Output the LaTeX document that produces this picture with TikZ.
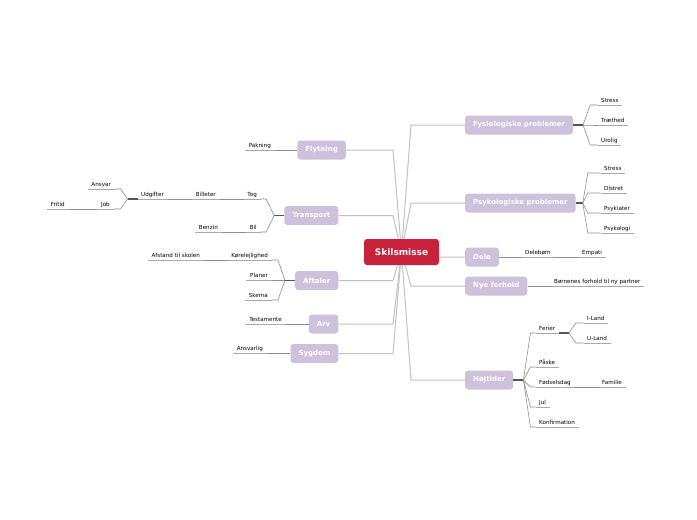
\documentclass[tikz,border=0pt]{standalone}
\usepackage{fontspec}
\setmainfont{DejaVu Sans}
\usetikzlibrary{positioning}
\pgfdeclarelayer{bg}
\pgfsetlayers{bg,main}
\definecolor{rootred}{HTML}{C8213A}
\definecolor{topiclila}{HTML}{CDC1DB}
\definecolor{trunkgray}{HTML}{C2C2C2}
\definecolor{linkgray}{HTML}{8E8E8E}
\definecolor{stubgray}{HTML}{555555}

\begin{document}
\begin{tikzpicture}[
  x=1pt, y=-1pt,
  root/.style={rectangle, rounded corners=3pt, fill=rootred, text=white,
               minimum width=75pt, minimum height=26pt,
               font=\bfseries\fontsize{9}{10}\selectfont},
  topic/.style={rectangle, rounded corners=3pt, fill=topiclila, text=white,
                inner xsep=8pt, minimum height=19pt,
                font=\bfseries\fontsize{7}{8}\selectfont},
  leafL/.style={inner xsep=3.5pt, inner ysep=1.5pt, text height=4.2pt,
                text depth=1.2pt, anchor=south east,
                font=\fontsize{5.6}{6.5}\selectfont},
  leafR/.style={leafL, anchor=south west},
  trunk/.style={draw=trunkgray, line width=1pt},
  link/.style={draw=linkgray, line width=0.6pt},
  uline/.style={draw=linkgray!75, line width=0.6pt},
  stub/.style={draw=stubgray, line width=1.5pt}
]
\useasboundingbox (0,0) rectangle (697,520);

\node[root] (root) at (401.5,252) {Skilsmisse};

% left topics
\node[topic, anchor=east] (flyt)  at (346,150)   {Flytning};
\node[topic, anchor=east] (trans) at (338.5,215.5) {Transport};
\node[topic, anchor=east] (aft)   at (338.5,280.5) {Aftaler};
\node[topic, anchor=east] (arv)   at (338.5,324) {Arv};
\node[topic, anchor=east] (syg)   at (338.5,353.5) {Sygdom};

% right topics
\node[topic, anchor=west] (fys)  at (465,125) {Fysiologiske problemer};
\node[topic, anchor=west] (psy)  at (465,203) {Psykologiske problemer};
\node[topic, anchor=west] (dele) at (465,257) {Dele};
\node[topic, anchor=west] (nye)  at (465,286) {Nye forhold};
\node[topic, anchor=west] (hoj)  at (465,380) {Højtider};

% left leaves
\node[leafL] (pak)   at (274.5,150) {Pakning};
\node[leafL] (tog)   at (260.5,199) {Tog};
\node[leafL] (bill)  at (219.5,199) {Billeter};
\node[leafL] (udg)   at (167.5,199) {Udgifter};
\node[leafL] (ansv)  at (114.5,189) {Ansvar};
\node[leafL] (job)   at (113.5,209) {Job};
\node[leafL] (frit)  at (68.5,209)  {Fritid};
\node[leafL] (bil)   at (260.5,232) {Bil};
\node[leafL] (benz)  at (221.5,232) {Benzin};
\node[leafL] (kore)  at (271.5,260) {Kørelejlighed};
\node[leafL] (afst)  at (203.5,260) {Afstand til skolen};
\node[leafL] (plan)  at (271.5,280.5) {Planer};
\node[leafL] (skem)  at (271.5,300) {Skema};
\node[leafL] (test)  at (285.5,324) {Testamente};
\node[leafL] (ansvl) at (266.5,353.5) {Ansvarlig};

% right leaves
\node[leafR] (str1)  at (597.5,105) {Stress};
\node[leafR] (trae)  at (597.5,125) {Træthed};
\node[leafR] (urol)  at (597.5,145) {Urolig};
\node[leafR] (str2)  at (600.5,173) {Stress};
\node[leafR] (dist)  at (600.5,193) {Distret};
\node[leafR] (psyk)  at (600.5,213) {Psykiater};
\node[leafR] (psyl)  at (600.5,233) {Psykologi};
\node[leafR] (deleb) at (521.5,257) {Delebørn};
\node[leafR] (empa)  at (578.5,257) {Empati};
\node[leafR] (born)  at (550.5,286) {Børnenes forhold til ny partner};
\node[leafR] (feri)  at (535.5,333) {Ferier};
\node[leafR] (iland) at (583.5,323) {I-Land};
\node[leafR] (uland) at (583.5,343) {U-Land};
\node[leafR] (pask)  at (535.5,367) {Påske};
\node[leafR] (fods)  at (535.5,387) {Fødselsdag};
\node[leafR] (fami)  at (598.5,387) {Familie};
\node[leafR] (jul)   at (535.5,407) {Jul};
\node[leafR] (konf)  at (535.5,427) {Konfirmation};

\foreach \n in {pak,tog,bill,udg,ansv,job,frit,bil,benz,kore,afst,plan,skem,
                test,ansvl,str1,trae,urol,str2,dist,psyk,psyl,deleb,empa,born,
                feri,iland,uland,pask,fods,fami,jul,konf}
  \draw[uline] (\n.south west) -- (\n.south east);

% trunks from the centre
\coordinate (rc) at ([xshift=9.5pt]root.center);
\coordinate (lc) at ([xshift=-8.5pt]root.center);
\begin{pgfonlayer}{bg}
\foreach \t in {fys,psy,dele,nye,hoj}
  \draw[trunk] (root.center) -- (rc |- \t.west) -- (\t.west);
\foreach \t in {flyt,trans,aft,arv,syg}
  \draw[trunk] (root.center) -- (lc |- \t.east) -- (\t.east);
\end{pgfonlayer}

% brackets
\coordinate (trs) at ([xshift=-10pt]trans.west);
\coordinate (trk) at ([xshift=-18pt]trans.west);
\coordinate (uds) at ([xshift=-10pt]udg.south west);
\coordinate (udk) at ([xshift=-17pt]udg.south west);
\coordinate (afs) at ([xshift=-10pt]aft.west);
\coordinate (afk) at ([xshift=-17pt]aft.west);
\coordinate (fys') at ([xshift=10pt]fys.east);
\coordinate (fyk) at ([xshift=17pt]fys.east);
\coordinate (psys) at ([xshift=7pt]psy.east);
\coordinate (psk) at ([xshift=12pt]psy.east);
\coordinate (hos) at ([xshift=10pt]hoj.east);
\coordinate (hok) at ([xshift=17pt]hoj.east);
\coordinate (fes) at ([xshift=10pt]feri.south east);
\coordinate (fek) at ([xshift=17pt]feri.south east);

\draw[stub] (trans.west) -- (trs);
\draw[stub] (udg.south west) -- (uds);
\draw[stub] (aft.west) -- (afs);
\draw[stub] (fys.east) -- (fys');
\draw[stub] (psy.east) -- (psys);
\draw[stub] (hoj.east) -- (hos);
\draw[stub] (feri.south east) -- (fes);

\foreach \c in {tog,bil}
  \draw[link] (trs) -- (trk |- \c.south) -- (\c.south east);
\foreach \c in {ansv,job}
  \draw[link] (uds) -- (udk |- \c.south) -- (\c.south east);
\foreach \c in {kore,plan,skem}
  \draw[link] (afs) -- (afk |- \c.south) -- (\c.south east);
\foreach \c in {str1,trae,urol}
  \draw[link] (fys') -- (fyk |- \c.south) -- (\c.south west);
\foreach \c in {str2,dist,psyk,psyl}
  \draw[link] (psys) -- (psk |- \c.south) -- (\c.south west);
\foreach \c in {feri,pask,fods,jul,konf}
  \draw[link] (hos) -- (hok |- \c.south) -- (\c.south west);
\foreach \c in {iland,uland}
  \draw[link] (fes) -- (fek |- \c.south) -- (\c.south west);

% single links
\foreach \a/\b in {flyt.west/pak.south east, tog.south west/bill.south east,
                   bill.south west/udg.south east, job.south west/frit.south east,
                   bil.south west/benz.south east, kore.south west/afst.south east,
                   arv.west/test.south east, syg.west/ansvl.south east,
                   dele.east/deleb.south west, deleb.south east/empa.south west,
                   nye.east/born.south west, fods.south east/fami.south west}
  \draw[link] (\a) -- (\b);
\end{tikzpicture}
\end{document}
